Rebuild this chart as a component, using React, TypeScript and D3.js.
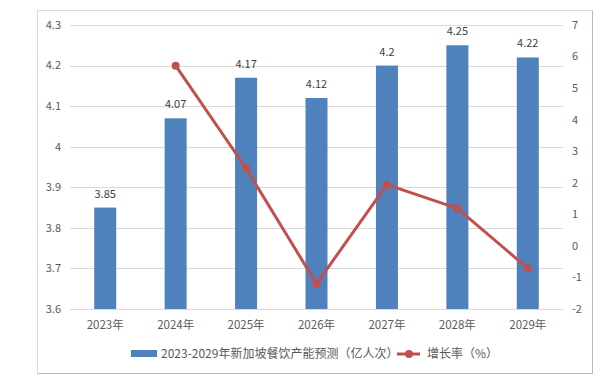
import React from 'react';
import * as d3 from 'd3';

const YEARS = ['2023年', '2024年', '2025年', '2026年', '2027年', '2028年', '2029年'];
const CAPACITY = [3.85, 4.07, 4.17, 4.12, 4.2, 4.25, 4.22];
const GROWTH: (number | null)[] = [null, 5.71, 2.46, -1.2, 1.94, 1.19, -0.71];
const LEFT_TICKS = [3.6, 3.7, 3.8, 3.9, 4, 4.1, 4.2, 4.3];
const RIGHT_TICKS = [-2, -1, 0, 1, 2, 3, 4, 5, 6, 7];
const BAR_NAME = '2023-2029年新加坡餐饮产能预测（亿人次）';
const LINE_NAME = '增长率（%）';

const W = 610;
const H = 390;
const LEFT = 70;
const RIGHT = 563;
const TOP = 25;
const BOTTOM = 309;
const BAR_COLOR = '#4f81bd';
const LINE_COLOR = '#c0504d';
const FONT = '"Noto Sans CJK SC", "Noto Sans", sans-serif';

export default function App() {
  const x = d3.scaleBand().domain(YEARS).range([LEFT, RIGHT]).padding(0);
  const yL = d3.scaleLinear().domain([3.6, 4.3]).range([BOTTOM, TOP]);
  const yR = d3.scaleLinear().domain([-2, 7]).range([BOTTOM, TOP]);
  const barW = 22;
  const cx = (d: string) => (x(d) as number) + x.bandwidth() / 2;

  const pts = YEARS.map((d, i) => ({ d, v: GROWTH[i] })).filter((p) => p.v !== null) as { d: string; v: number }[];
  const line = d3.line<{ d: string; v: number }>().x((p) => cx(p.d)).y((p) => yR(p.v));

  return (
    <svg width={W} height={H} style={{ position: 'absolute', left: 0, top: 0 }} fontFamily={FONT}>
      <rect x={0} y={0} width={W} height={H} fill="#fff" />
      <rect x={37.5} y={10.5} width={555} height={363} fill="#fff" stroke="#d9d9d9" />
      <line x1={38} x2={593} y1={373.5} y2={373.5} stroke="#b8b8b8" />
      <line x1={592.5} x2={592.5} y1={11} y2={374} stroke="#b8b8b8" />

      {LEFT_TICKS.map((t) => (
        <g key={t}>
          <line x1={LEFT} x2={RIGHT} y1={Math.round(yL(t)) + 0.5} y2={Math.round(yL(t)) + 0.5} stroke="#d9d9d9" />
          <text x={61} y={yL(t)} dy="0.35em" textAnchor="end" fontSize={11} fill="#595959">
            {t}
          </text>
        </g>
      ))}
      {RIGHT_TICKS.map((t) => (
        <text key={t} x={572} y={yR(t)} dy="0.35em" textAnchor="start" fontSize={11} fill="#595959">
          {t}
        </text>
      ))}

      {YEARS.map((d, i) => (
        <g key={d}>
          <rect x={cx(d) - barW / 2} y={yL(CAPACITY[i])} width={barW} height={BOTTOM - yL(CAPACITY[i])} fill={BAR_COLOR} />
          <text x={cx(d)} y={yL(CAPACITY[i]) - 10} textAnchor="middle" fontSize={11} fill="#404040">
            {CAPACITY[i]}
          </text>
          <text x={cx(d)} y={BOTTOM + 20} textAnchor="middle" fontSize={11.5} fill="#595959">
            {d}
          </text>
        </g>
      ))}

      <path d={line(pts) || ''} fill="none" stroke={LINE_COLOR} strokeWidth={3} strokeLinejoin="round" />
      {pts.map((p) => (
        <circle key={p.d} cx={cx(p.d)} cy={yR(p.v)} r={4} fill={LINE_COLOR} />
      ))}

      <g>
        <rect x={131} y={350} width={26} height={7} fill={BAR_COLOR} />
        <text x={161} y={354} dy="0.35em" fontSize={12} fill="#595959">
          {BAR_NAME}
        </text>
        <line x1={397} x2={420} y1={354} y2={354} stroke={LINE_COLOR} strokeWidth={3} />
        <circle cx={409} cy={354} r={4} fill={LINE_COLOR} />
        <text x={427} y={354} dy="0.35em" fontSize={12} fill="#595959">
          {LINE_NAME}
        </text>
      </g>
    </svg>
  );
}
